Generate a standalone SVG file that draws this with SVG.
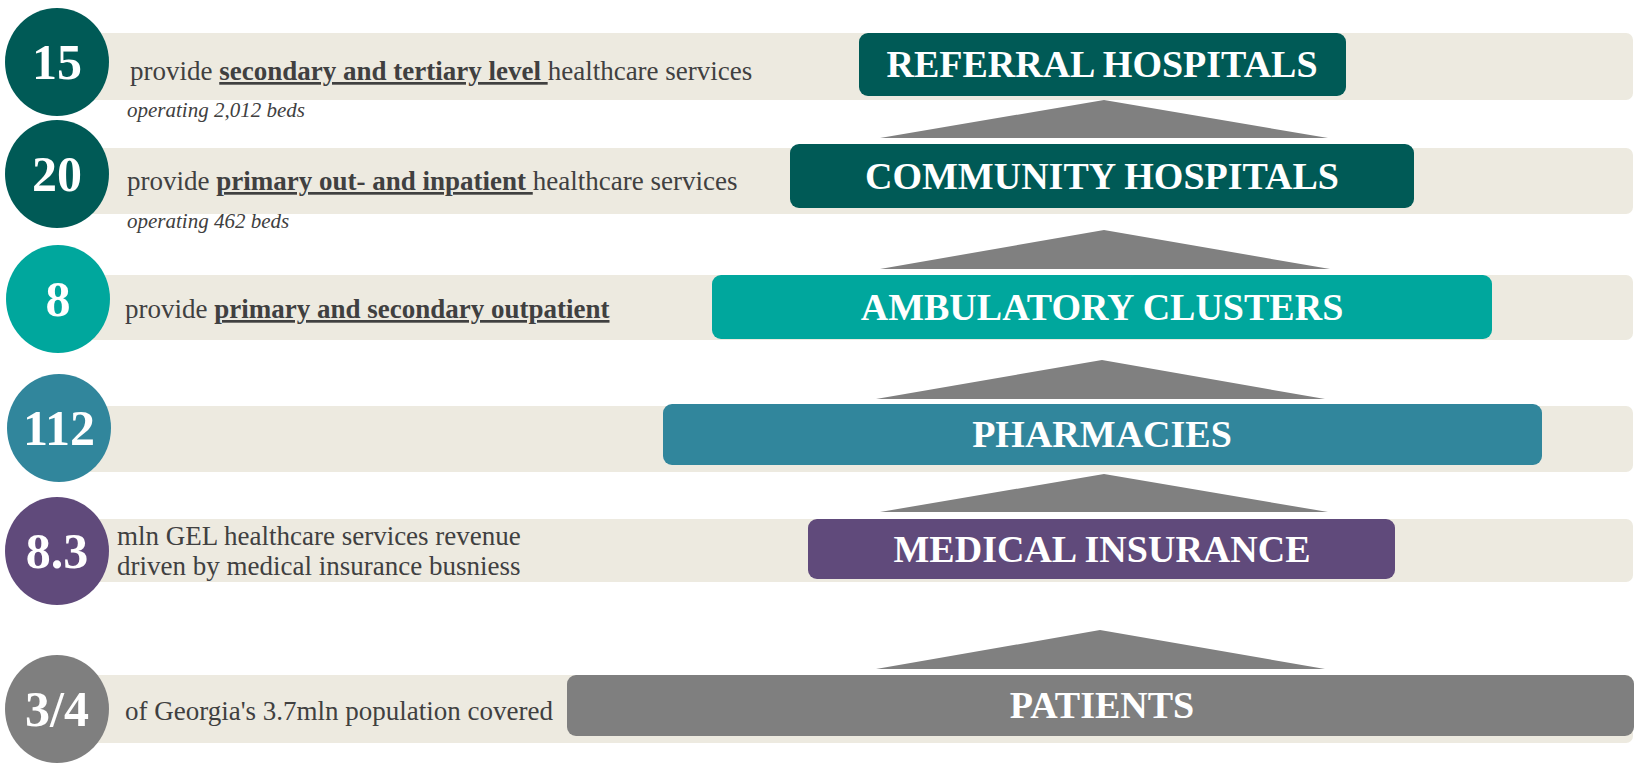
<svg xmlns="http://www.w3.org/2000/svg" width="1636" height="764" viewBox="0 0 1636 764">
<style>
.band{fill:#EDEAE0}
.num{font-family:"Liberation Serif","Times New Roman",serif;font-weight:bold;font-size:50px;fill:#fff;text-anchor:middle}
.lbl{font-family:"Liberation Serif","Times New Roman",serif;font-weight:bold;font-size:38px;fill:#fff;text-anchor:middle}
.desc{font-family:"Liberation Serif","Times New Roman",serif;font-size:27px;fill:#404040}
.desc .b{font-weight:bold;text-decoration:underline}
.note{font-family:"Liberation Serif","Times New Roman",serif;font-style:italic;font-size:21px;fill:#404040}
.tri{fill:#808080}
</style>
<g id="connectors">
<polygon class="tri" points="1104,100 1328,138 880,138"/>
<polygon class="tri" points="1104,230 1330,269 880,269"/>
<polygon class="tri" points="1102,360 1325,399 876,399"/>
<polygon class="tri" points="1104,474 1328,512 880,512"/>
<polygon class="tri" points="1100,630 1325,669 876,669"/>
</g>
<g id="referral">
<path class="band" d="M90,33 H1626 a7,7 0 0 1 7,7 V93 a7,7 0 0 1 -7,7 H90 Z"/>
<ellipse cx="57" cy="62" rx="52" ry="54" fill="#005A56"/>
<text class="num" x="57" y="79">15</text>
<text class="desc" x="130" y="80" xml:space="preserve">provide <tspan class="b">secondary and tertiary level </tspan>healthcare services</text>
<text class="note" x="127" y="117">operating 2,012 beds</text>
<rect x="859" y="33" width="487" height="63" rx="9" fill="#005A56"/>
<text class="lbl" x="1102" y="77">REFERRAL HOSPITALS</text>
</g>
<g id="community">
<path class="band" d="M90,148 H1626 a7,7 0 0 1 7,7 V207 a7,7 0 0 1 -7,7 H90 Z"/>
<ellipse cx="57" cy="174" rx="52" ry="54" fill="#005A56"/>
<text class="num" x="57" y="191">20</text>
<text class="desc" x="127" y="190" xml:space="preserve">provide <tspan class="b">primary out- and inpatient </tspan>healthcare services</text>
<text class="note" x="127" y="228">operating 462 beds</text>
<rect x="790" y="144" width="624" height="64" rx="9" fill="#005A56"/>
<text class="lbl" x="1102" y="189">COMMUNITY HOSPITALS</text>
</g>
<g id="ambulatory">
<path class="band" d="M90,275 H1626 a7,7 0 0 1 7,7 V333 a7,7 0 0 1 -7,7 H90 Z"/>
<ellipse cx="58" cy="299" rx="52" ry="54" fill="#00A79D"/>
<text class="num" x="58" y="316">8</text>
<text class="desc" x="125" y="318" xml:space="preserve">provide <tspan class="b">primary and secondary outpatient</tspan></text>
<rect x="712" y="275" width="780" height="64" rx="9" fill="#00A79D"/>
<text class="lbl" x="1102" y="320">AMBULATORY CLUSTERS</text>
</g>
<g id="pharmacies">
<path class="band" d="M90,406 H1626 a7,7 0 0 1 7,7 V465 a7,7 0 0 1 -7,7 H90 Z"/>
<ellipse cx="59" cy="428" rx="52" ry="54" fill="#31869C"/>
<text class="num" x="59" y="445">112</text>
<rect x="663" y="404" width="879" height="61" rx="9" fill="#31869C"/>
<text class="lbl" x="1102" y="447">PHARMACIES</text>
</g>
<g id="insurance">
<path class="band" d="M90,519 H1626 a7,7 0 0 1 7,7 V575 a7,7 0 0 1 -7,7 H90 Z"/>
<ellipse cx="57" cy="551" rx="52" ry="54" fill="#604A7B"/>
<text class="num" x="57" y="568">8.3</text>
<text class="desc" x="117" y="545">mln GEL healthcare services revenue</text>
<text class="desc" x="117" y="575">driven by medical insurance busniess</text>
<rect x="808" y="519" width="587" height="60" rx="9" fill="#604A7B"/>
<text class="lbl" x="1102" y="562">MEDICAL INSURANCE</text>
</g>
<g id="patients">
<path class="band" d="M90,675 H1626 a7,7 0 0 1 7,7 V736 a7,7 0 0 1 -7,7 H90 Z"/>
<ellipse cx="57" cy="709" rx="52" ry="54" fill="#7F7F7F"/>
<text class="num" x="57" y="726">3/4</text>
<text class="desc" x="125" y="720">of Georgia's 3.7mln population covered</text>
<rect x="567" y="675" width="1067" height="61" rx="9" fill="#7F7F7F"/>
<text class="lbl" x="1102" y="718">PATIENTS</text>
</g>
</svg>
